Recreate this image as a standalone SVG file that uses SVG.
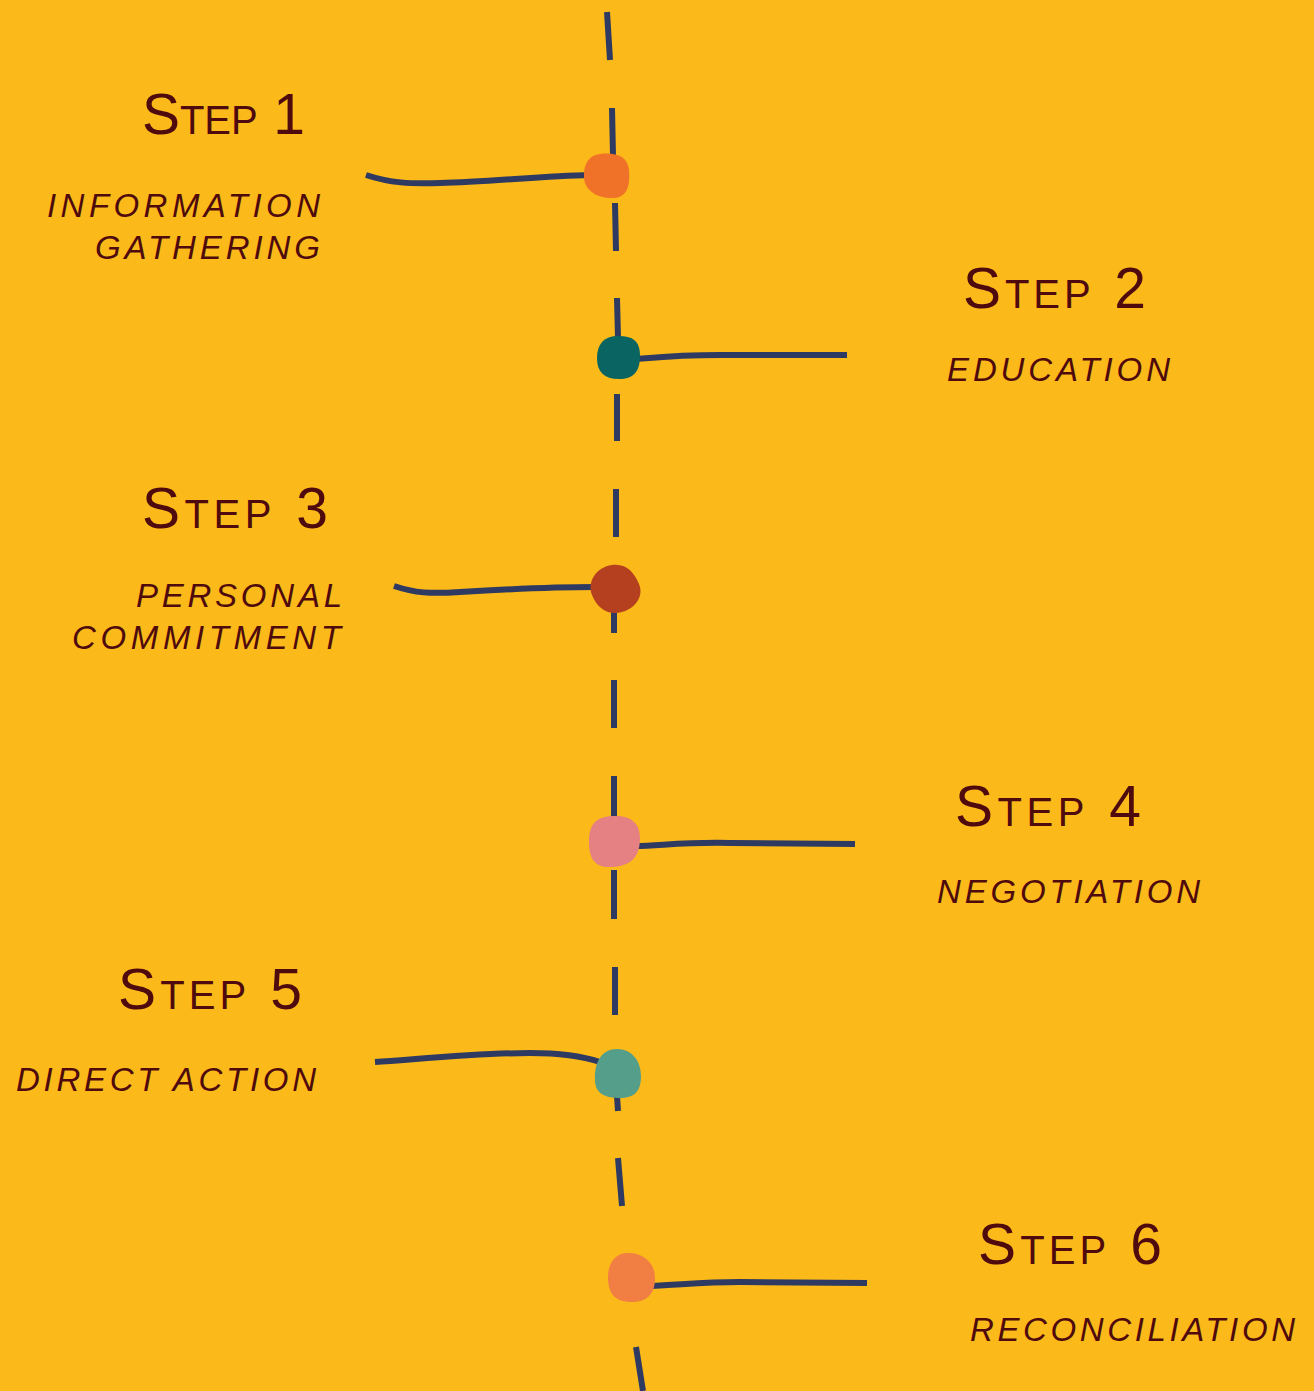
<svg xmlns="http://www.w3.org/2000/svg" width="1314" height="1391" viewBox="0 0 1314 1391">
<style>
.title{font-family:"Liberation Sans",Arial,sans-serif;font-size:57px;font-variant:small-caps;fill:#4E0A0C;}
.sub{font-family:"Liberation Sans",Arial,sans-serif;font-size:33px;font-style:italic;fill:#4E0A0C;}
.ln{fill:none;stroke:#2E3A62;stroke-width:6;}
</style>
<rect width="1314" height="1391" fill="#FBB91A"/>
<g id="connectors" class="ln">
<path d="M607 12L610 60M612 108L613 156M615 203L616 251M617 298L618 338M617 394L617 441M616 489L616 537M614 612L614 633M614 680L614 728M614 776L614 818M614 870L614 919M615 967L615 1015M617 1096L618 1111M618 1158L622 1206M636 1347L643 1391"/>
<path d="M366 175C390 183 410 184 440 183C490 182 540 176 590 175"/>
<path d="M635 359C660 357 680 355 720 355L847 355"/>
<path d="M394 586C415 593 430 594 460 592C510 589 550 587 595 587"/>
<path d="M635 846C660 846 680 842 730 843L855 844"/>
<path d="M375 1062C420 1059 480 1053 530 1053C565 1053 585 1057 600 1062"/>
<path d="M650 1286C680 1285 700 1282 740 1282L867 1283"/>
</g>
<g id="step1">
<path d="M600 154C615 152 628 156 629 170C630 185 628 197 614 198C600 199 585 192 584 178C583 163 590 155 600 154Z" fill="#F07229"/>
<text class="title" x="142" y="134" textLength="163">Step 1</text>
<text class="sub" x="47" y="217" textLength="273">INFORMATION</text>
<text class="sub" x="95" y="259" textLength="225">GATHERING</text>
</g>
<g id="step2">
<path d="M618 336C632 336 640 340 640 356C640 372 633 379 619 379C604 379 597 372 597 358C597 344 604 336 618 336Z" fill="#0A6562"/>
<text class="title" x="963" y="308" textLength="183">Step 2</text>
<text class="sub" x="947" y="381" textLength="223">EDUCATION</text>
</g>
<g id="step3">
<path d="M612 565C626 563 634 572 639 584C644 596 636 608 622 612C608 616 597 608 592 595C587 582 596 567 612 565Z" fill="#B5401F"/>
<text class="title" x="142" y="528" textLength="186">Step 3</text>
<text class="sub" x="136" y="607" textLength="206">PERSONAL</text>
<text class="sub" x="72" y="649" textLength="269">COMMITMENT</text>
</g>
<g id="step4">
<path d="M612 816C630 815 640 822 640 838C640 856 632 866 612 867C596 868 589 860 589 842C589 824 596 817 612 816Z" fill="#E58083"/>
<text class="title" x="955" y="826" textLength="186">Step 4</text>
<text class="sub" x="937" y="903" textLength="263">NEGOTIATION</text>
</g>
<g id="step5">
<path d="M617 1049C632 1049 641 1061 641 1076C641 1092 634 1098 620 1098C606 1098 595 1094 595 1080C594 1062 602 1049 617 1049Z" fill="#559E8A"/>
<text class="title" x="118" y="1009" textLength="184">Step 5</text>
<text class="sub" x="16" y="1091" textLength="300">DIRECT ACTION</text>
</g>
<g id="step6">
<path d="M630 1253C645 1254 655 1264 655 1278C655 1292 649 1302 632 1302C615 1302 608 1294 608 1277C608 1262 616 1252 630 1253Z" fill="#F17F43"/>
<text class="title" x="978" y="1264" textLength="184">Step 6</text>
<text class="sub" x="970" y="1341" textLength="325">RECONCILIATION</text>
</g>
</svg>
